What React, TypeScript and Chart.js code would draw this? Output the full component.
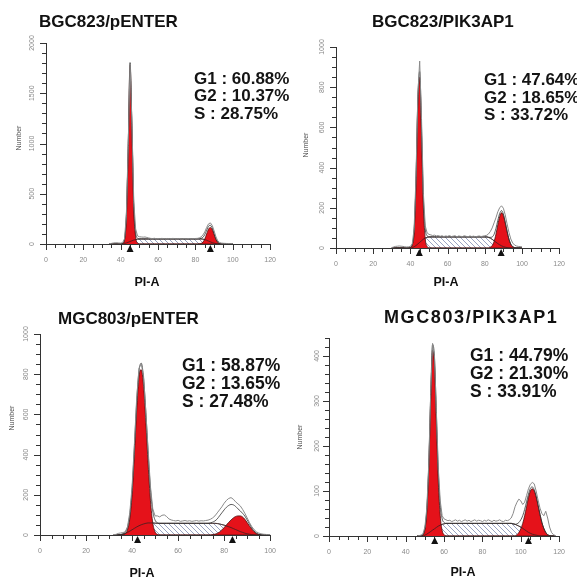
import React, { useEffect, useRef } from 'react';
import { Chart, registerables } from 'chart.js';
Chart.register(...registerables);

const FONT = '"Liberation Sans", Arial, Helvetica, sans-serif';

// ---------- Panel 1: BGC823/pENTER ----------
const p1Title = 'BGC823/pENTER';
const p1Stats = ['G1 : 60.88%', 'G2 : 10.37%', 'S : 28.75%'];
const p1Means = [45, 88];
const p1X = [34,35,36,37,38,39,40,41,42,43,44,45,46,47,48,49,50,51,52,53,54,55,56,57,58,59,60,61,62,63,64,65,66,67,68,69,70,71,72,73,74,75,76,77,78,79,80,81,82,83,84,85,86,87,88,89,90,91,92,93,94,95,96,97,98,99,100];
const p1G1 = [0,0,0,0,0,0,0, 5,40,260,950,1780,1150,340,70,10, 0,0,0,0,0,0,0,0,0,0,0,0,0,0,0,0,0,0,0,0,0,0,0,0,0,0,0,0,0,0,0,0,0,0,0,0,0,0,0,0,0,0,0,0,0,0,0,0,0,0,0];
const p1S = [0,0,0,0,0,0,0,0, 4,10,17,25,32,39,44,48,50, 50,50,50,50,50,50,50,50,50,50,50,50,50,50,50,50,50,50,50,50,50,50,50,50,50,50,50,50,50,50,50,50,50, 48,44,37,29,21,14,8,4,1, 0,0,0,0,0,0,0,0];
const p1G2 = [0,0,0,0,0,0,0,0,0,0,0,0,0,0,0,0,0,0,0,0,0,0,0,0,0,0,0,0,0,0,0,0,0,0,0,0,0,0,0,0,0,0,0,0,0,0,0,0, 2,6,18,50,100,148,165,145,95,45,15,4,1, 0,0,0,0,0,0];
const p1Fit = [0,0,0,0,0,0,0, 5,44,270,967,1805,1182,379,114,58,50, 50,50,50,50,50,50,50,50,50,50,50,50,50,50,50,50,50,50,50,50,50,50,50,50,50,50,50,50,50,50,50, 52,56,66,94,137,177,186,159,103,49,16,4,1, 0,0,0,0,0,0];
const p1Raw = [3,6,10,12,12,10,9, 14,50,280,980,1790,1200,420,150,80,72,70,68,70,65,60, 56,54,57,53,55,52,56,54,53,55,52,54,56,53,52,55,53,51,54,52,55,53,52,54,55,56, 60,70,90,120,165,200,210,185,130,70,30,14,9,7,6,5,5,4,4];

// ---------- Panel 2: BGC823/PIK3AP1 ----------
const p2Title = 'BGC823/PIK3AP1';
const p2Stats = ['G1 : 47.64%', 'G2 : 18.65%', 'S : 33.72%'];
const p2Means = [44.8, 88.8];
const p2X = [30,31,32,33,34,35,36,37,38,39,40,41,42,43,44,45,46,47,48,49,50,51,52,53,54,55,56,57,58,59,60,61,62,63,64,65,66,67,68,69,70,71,72,73,74,75,76,77,78,79,80,81,82,83,84,85,86,87,88,89,90,91,92,93,94,95,96,97,98,99,100];
const p2G1 = [0,0,0,0,0,0,0,0,0,0, 3,15,80,320,720,850,560,200,45,8, 0,0,0,0,0,0,0,0,0,0,0,0,0,0,0,0,0,0,0,0,0,0,0,0,0,0,0,0,0,0,0,0,0,0,0,0,0,0,0,0,0,0,0,0,0,0,0,0,0,0,0];
const p2S = [0,0,0,0,0,0,0,0,0,0,0, 2,6,12,20,28,36,44,50,53, 55,55,55,55,55,55,55,55,55,55,55,55,55,55,55,55,55,55,55,55,55,55,55,55,55,55,55,55,55,55,55,55, 53,49,43,36,29,22,16,11,7,4,2, 0,0,0,0,0,0,0,0];
const p2G2 = [0,0,0,0,0,0,0,0,0,0,0,0,0,0,0,0,0,0,0,0,0,0,0,0,0,0,0,0,0,0,0,0,0,0,0,0,0,0,0,0,0,0,0,0,0,0,0,0,0,0,0,0,0, 4,12,32,68,115,155,175,162,125,82,44,19,7,2, 0,0,0,0];
const p2Fit = [0,0,0,0,0,0,0,0,0,0, 3,17,86,332,740,878,596,244,95,61, 55,55,55,55,55,55,55,55,55,55,55,55,55,55,55,55,55,55,55,55,55,55,55,55,55,55,55,55,55,55,55,55, 53,53,55,68,97,137,171,186,169,129,84,44,19,7,2, 0,0,0,0];
const p2Raw = [2,5,8,9,10,9,8,6,5,6,8, 20,95,350,760,930,640,270,110,75, 68,65,62,64,60,62,58,61,57,60,58,62,57,59,61,56,60,58,57,61,58,56,60,57,59,56,58,60,57,59,61,63, 70,82,100,125,150,180,200,210,198,165,120,78,45,25,15,10,8,7,6];

// ---------- Panel 3: MGC803/pENTER ----------
const p3Title = 'MGC803/pENTER';
const p3Stats = ['G1 : 58.87%', 'G2 : 13.65%', 'S : 27.48%'];
const p3Means = [42.4, 83.6];
const p3X = [32,33,34,35,36,37,38,39,40,41,42,43,44,45,46,47,48,49,50,51,52,53,54,55,56,57,58,59,60,61,62,63,64,65,66,67,68,69,70,71,72,73,74,75,76,77,78,79,80,81,82,83,84,85,86,87,88,89,90,91,92,93,94,95,96,97,98,99,100];
const p3G1 = [0,0,0,0, 2,6,25,80,200,400,620,790,822,740,560,350,170,60,15,3, 0,0,0,0,0,0,0,0,0,0,0,0,0,0,0,0,0,0,0,0,0,0,0,0,0,0,0,0,0,0,0,0,0,0,0,0,0,0,0,0,0,0,0,0,0,0,0,0,0];
const p3S = [0,0, 1,2,4,8,13,19,26,33,40,46,51,55,58,60,60,60,59, 58,58,58,58,58,58,58,58,58,58,58,58,58,58,58,58,58,58,58,58,58,58,58,58,58,58, 57,55,52,49,45,41,37,32,27,22,17,13,9,6,4,2,1, 0,0,0,0,0,0,0];
const p3G2 = [0,0,0,0,0,0,0,0,0,0,0,0,0,0,0,0,0,0,0,0,0,0,0,0,0,0,0,0,0,0,0,0,0,0,0,0,0,0,0,0,0,0,0, 2,4,8,15,25,37,50,63,75,85,92,95,95,90,78,62,45,30,17,8,3,1, 0,0,0,0];
const p3Fit = [0,0, 1,2,6,14,38,99,226,433,660,815,855,780,610,405,228,119,74,61, 58,58,58,58,58,58,58,58,58,58,58,58,58,58,58,58,58,58,58,58,58,58, 60,64,70,80,95,110,125,138,147,152,150,142,130,120,108,94,75,55,36,20,10,4,2,1, 0,0,0];
const p3Raw = [2,3,8,10,12,16,40,110,240,450,680,830,852,790,610,420,240,130, 95,95,90,98,100,92,80,75,72,70,73,68,70,72,69,71,68,70,72,69,71,70,72,74, 78,85,95,110,125,140,158,172,182,186,178,165,155,145,128,108,85,62,42,27,16,10,6,4,3,2,2];

// ---------- Panel 4: MGC803/PIK3AP1 ----------
const p4Title = 'MGC803/PIK3AP1';
const p4Stats = ['G1 : 44.79%', 'G2 : 21.30%', 'S : 33.91%'];
const p4Means = [55.1, 104];
const p4X = [46,47,48,49,50,51,52,53,54,55,56,57,58,59,60,61,62,63,64,65,66,67,68,69,70,71,72,73,74,75,76,77,78,79,80,81,82,83,84,85,86,87,88,89,90,91,92,93,94,95,96,97,98,99,100,101,102,103,104,105,106,107,108,109,110,111,112,113,114,115,116,117,118];
const p4G1 = [0,0,0, 3,15,55,150,300,413,380,250,120,45,12,3, 0,0,0,0,0,0,0,0,0,0,0,0,0,0,0,0,0,0,0,0,0,0,0,0,0,0,0,0,0,0,0,0,0,0,0,0,0,0,0,0,0,0,0,0,0,0,0,0,0,0,0,0,0,0,0,0,0,0];
const p4S = [0,0,0,0, 2,4,7,10,13,16,19,22,24,26,27, 28,28,28,28,28,28,28,28,28,28,28,28,28,28,28,28,28,28,28,28,28,28,28,28,28,28,28,28,28,28,28,28,28,28,28, 27,26,24,22,20,17,14,11,8,6,4,3,2,1, 0,0,0,0,0,0,0,0,0];
const p4G2 = [0,0,0,0,0,0,0,0,0,0,0,0,0,0,0,0,0,0,0,0,0,0,0,0,0,0,0,0,0,0,0,0,0,0,0,0,0,0,0,0,0,0,0,0,0,0,0,0,0,0,0,0, 3,8,16,28,45,65,85,100,105,100,87,68,48,30,17,8,3,1, 0,0,0];
const p4Fit = [0,0,0, 3,17,59,157,310,426,396,269,142,69,38,30, 28,28,28,28,28,28,28,28,28,28,28,28,28,28,28,28,28,28,28,28,28,28,28,28,28,28,28,28,28,28,28,28,28,28,28, 27,26,27,30,36,45,59,76,93,106,109,103,89,69,48,30,17,8,3,1, 0,0,0];
const p4Raw = [0,1,2,5,20,62,160,315,428,400,275,150,78,45,38, 36,34,35,32,34,36,33,35,32,34,36,33,35,32,34,36,33,35,34,32,35,33,36,34,32,35,33,34,36,33,32,35,34,36, 40,50,65,75,82,78,70,75,90,105,115,119,116,100,80,62,50,45,55,40,20,8,3,1];

const xTickMajor = 20;
const xTickMinor = 5;

type PanelCfg = {
  title: string; stats: string[]; means: number[];
  x: number[]; g1: number[]; s: number[]; g2: number[]; fit: number[]; raw: number[];
  xMax: number; yMax: number; yMinor: number; yMajor: number;
  box: { left: number; top: number; w: number; h: number };
  pad: { left: number; top: number; right: number; bottom: number };
  titlePos: { left: number; top: number; size: number; spacing: number };
  statsPos: { left: number; top: number; size: number; lh: number };
  piaPos: { cx: number; top: number };
  numPos: { cx: number; cy: number };
};

const panels: PanelCfg[] = [
  {
    title: p1Title, stats: p1Stats, means: p1Means, x: p1X, g1: p1G1, s: p1S, g2: p1G2, fit: p1Fit, raw: p1Raw,
    xMax: 120, yMax: 2000, yMinor: 100, yMajor: 500,
    box: { left: 0, top: 0, w: 288, h: 290 }, pad: { left: 22, top: 43, right: 5, bottom: 24 },
    titlePos: { left: 39, top: 12.5, size: 17, spacing: 0 }, statsPos: { left: 194, top: 69.5, size: 17, lh: 17.5 },
    piaPos: { cx: 147, top: 276 }, numPos: { cx: 19, cy: 138 },
  },
  {
    title: p2Title, stats: p2Stats, means: p2Means, x: p2X, g1: p2G1, s: p2S, g2: p2G2, fit: p2Fit, raw: p2Raw,
    xMax: 120, yMax: 1000, yMinor: 50, yMajor: 200,
    box: { left: 288, top: 0, w: 289, h: 290 }, pad: { left: 24, top: 47, right: 6, bottom: 20 },
    titlePos: { left: 372, top: 12.5, size: 17, spacing: 0 }, statsPos: { left: 484, top: 71, size: 17, lh: 17.7 },
    piaPos: { cx: 446, top: 276 }, numPos: { cx: 306, cy: 145 },
  },
  {
    title: p3Title, stats: p3Stats, means: p3Means, x: p3X, g1: p3G1, s: p3S, g2: p3G2, fit: p3Fit, raw: p3Raw,
    xMax: 100, yMax: 1000, yMinor: 50, yMajor: 200,
    box: { left: 0, top: 290, w: 288, h: 295 }, pad: { left: 16, top: 44, right: 14, bottom: 28 },
    titlePos: { left: 58, top: 309.5, size: 17, spacing: 0 }, statsPos: { left: 182, top: 355.5, size: 17.5, lh: 18 },
    piaPos: { cx: 142, top: 567 }, numPos: { cx: 12, cy: 418 },
  },
  {
    title: p4Title, stats: p4Stats, means: p4Means, x: p4X, g1: p4G1, s: p4S, g2: p4G2, fit: p4Fit, raw: p4Raw,
    xMax: 120, yMax: 440, yMinor: 20, yMajor: 100,
    box: { left: 288, top: 290, w: 289, h: 295 }, pad: { left: 17, top: 48, right: 15, bottom: 27 },
    titlePos: { left: 384, top: 308, size: 18, spacing: 1.6 }, statsPos: { left: 470, top: 345.5, size: 17.5, lh: 18.4 },
    piaPos: { cx: 463, top: 566 }, numPos: { cx: 300, cy: 437 },
  },
];

function makeHatch(): CanvasPattern | string {
  const c = document.createElement('canvas');
  c.width = 5; c.height = 5;
  const ctx = c.getContext('2d');
  if (!ctx) return '#ccd';
  ctx.fillStyle = '#ffffff';
  ctx.fillRect(0, 0, 5, 5);
  ctx.strokeStyle = '#8d98bb';
  ctx.lineWidth = 0.9;
  ctx.beginPath();
  ctx.moveTo(-1, -1); ctx.lineTo(6, 6);
  ctx.moveTo(-1, 4); ctx.lineTo(1, 6);
  ctx.moveTo(4, -1); ctx.lineTo(6, 1);
  ctx.stroke();
  return ctx.createPattern(c, 'repeat') || '#ccd';
}

const tickPlugin = {
  id: 'fcmTicks',
  afterDraw(chart: any, _args: any, opts: any) {
    const { ctx, chartArea } = chart;
    const xs = chart.scales.x;
    const ys = chart.scales.y;
    ctx.save();
    ctx.strokeStyle = '#333';
    ctx.lineWidth = 1;
    ctx.beginPath();
    for (const t of xs.ticks) {
      const px = Math.round(xs.getPixelForValue(t.value)) + 0.5;
      const len = t.value % opts.xMajor === 0 ? 6 : 4;
      ctx.moveTo(px, chartArea.bottom);
      ctx.lineTo(px, chartArea.bottom + len);
    }
    for (const t of ys.ticks) {
      const py = Math.round(ys.getPixelForValue(t.value)) + 0.5;
      const len = t.value % opts.yMajor === 0 ? 6 : 4;
      ctx.moveTo(chartArea.left, py);
      ctx.lineTo(chartArea.left - len, py);
    }
    ctx.stroke();
    // G1 / G2 mean markers
    ctx.fillStyle = '#111';
    for (const m of opts.means as number[]) {
      const px = xs.getPixelForValue(m);
      const b = chartArea.bottom;
      ctx.beginPath();
      ctx.moveTo(px, b + 1);
      ctx.lineTo(px - 3.5, b + 8);
      ctx.lineTo(px + 3.5, b + 8);
      ctx.closePath();
      ctx.fill();
    }
    ctx.restore();
  },
};

function Panel({ cfg }: { cfg: PanelCfg }) {
  const ref = useRef<HTMLCanvasElement>(null);
  useEffect(() => {
    if (!ref.current) return;
    const hatch = makeHatch();
    const pts = (ys: number[]) => cfg.x.map((x, i) => ({ x, y: ys[i] }));
    const common = { pointRadius: 0, cubicInterpolationMode: 'monotone' as const };
    const chart = new Chart(ref.current, {
      type: 'line',
      data: {
        datasets: [
          { label: 'Data', data: pts(cfg.raw), borderColor: '#8a8a8a', borderWidth: 1, fill: false, order: 1, ...common, cubicInterpolationMode: 'default', tension: 0 },
          { label: 'Fit', data: pts(cfg.fit), borderColor: '#333333', borderWidth: 0.8, fill: false, order: 2, ...common },
          { label: 'S outline', data: pts(cfg.s), borderColor: '#3b2222', borderWidth: 0.8, fill: false, order: 3, ...common },
          { label: 'G1', data: pts(cfg.g1), borderColor: '#4a1010', borderWidth: 0.8, backgroundColor: '#e5121a', fill: 'origin', order: 4, ...common },
          { label: 'G2', data: pts(cfg.g2), borderColor: '#4a1010', borderWidth: 0.8, backgroundColor: '#e5121a', fill: 'origin', order: 5, ...common },
          { label: 'S', data: pts(cfg.s), borderColor: '#666', borderWidth: 0.8, backgroundColor: hatch as any, fill: 'origin', order: 6, ...common },
        ],
      },
      options: {
        animation: false,
        responsive: false,
        events: [],
        layout: { padding: cfg.pad },
        plugins: {
          legend: { display: false },
          tooltip: { enabled: false },
          fcmTicks: { xMajor: xTickMajor, yMajor: cfg.yMajor, means: cfg.means },
        } as any,
        scales: {
          x: {
            type: 'linear', min: 0, max: cfg.xMax,
            ticks: {
              stepSize: xTickMinor, autoSkip: false, maxRotation: 0, minRotation: 0, padding: 12,
              color: '#8a8a8a', font: { family: FONT, size: 7 },
              callback: (v: any) => (Number(v) % xTickMajor === 0 ? String(v) : ''),
            },
            grid: { display: true, drawOnChartArea: false, drawTicks: false },
            border: { display: true, color: '#333', width: 1 },
            afterFit: (s: any) => { s.height = 22; },
          },
          y: {
            type: 'linear', min: 0, max: cfg.yMax,
            ticks: {
              stepSize: cfg.yMinor, autoSkip: false, minRotation: 90, maxRotation: 90, padding: 6,
              crossAlign: 'center',
              color: '#8a8a8a', font: { family: FONT, size: 7 },
              callback: (v: any) => (Number(v) % cfg.yMajor === 0 ? String(v) : ''),
            },
            grid: { display: true, drawOnChartArea: false, drawTicks: false },
            border: { display: true, color: '#333', width: 1 },
            afterFit: (s: any) => { s.width = 24; },
          },
        },
      } as any,
      plugins: [tickPlugin as any],
    });
    return () => chart.destroy();
  }, [cfg]);

  const t = cfg.titlePos;
  const st = cfg.statsPos;
  return (
    <>
      <canvas
        ref={ref}
        width={cfg.box.w}
        height={cfg.box.h}
        style={{ position: 'absolute', left: cfg.box.left, top: cfg.box.top, width: cfg.box.w, height: cfg.box.h }}
      />
      <div style={{ position: 'absolute', left: t.left, top: t.top, fontFamily: FONT, fontWeight: 'bold', fontSize: t.size, lineHeight: 1, letterSpacing: t.spacing, color: '#111', whiteSpace: 'nowrap' }}>
        {cfg.title}
      </div>
      <div style={{ position: 'absolute', left: st.left, top: st.top, fontFamily: FONT, fontWeight: 'bold', fontSize: st.size, lineHeight: `${st.lh}px`, color: '#141414', whiteSpace: 'nowrap' }}>
        {cfg.stats.map((s) => (<div key={s}>{s}</div>))}
      </div>
      <div style={{ position: 'absolute', left: cfg.piaPos.cx - 30, width: 60, textAlign: 'center', top: cfg.piaPos.top, fontFamily: FONT, fontWeight: 'bold', fontSize: 12.5, lineHeight: 1, color: '#111' }}>
        PI-A
      </div>
      <div style={{ position: 'absolute', left: cfg.numPos.cx - 20, top: cfg.numPos.cy - 5, width: 40, height: 10, lineHeight: '10px', textAlign: 'center', transform: 'rotate(-90deg)', fontFamily: FONT, fontSize: 7, color: '#555' }}>
        Number
      </div>
    </>
  );
}

export default function App() {
  return (
    <div style={{ position: 'fixed', left: 0, top: 0, width: 577, height: 585, background: '#fff', overflow: 'hidden' }}>
      {panels.map((p) => (<Panel key={p.title} cfg={p} />))}
    </div>
  );
}
